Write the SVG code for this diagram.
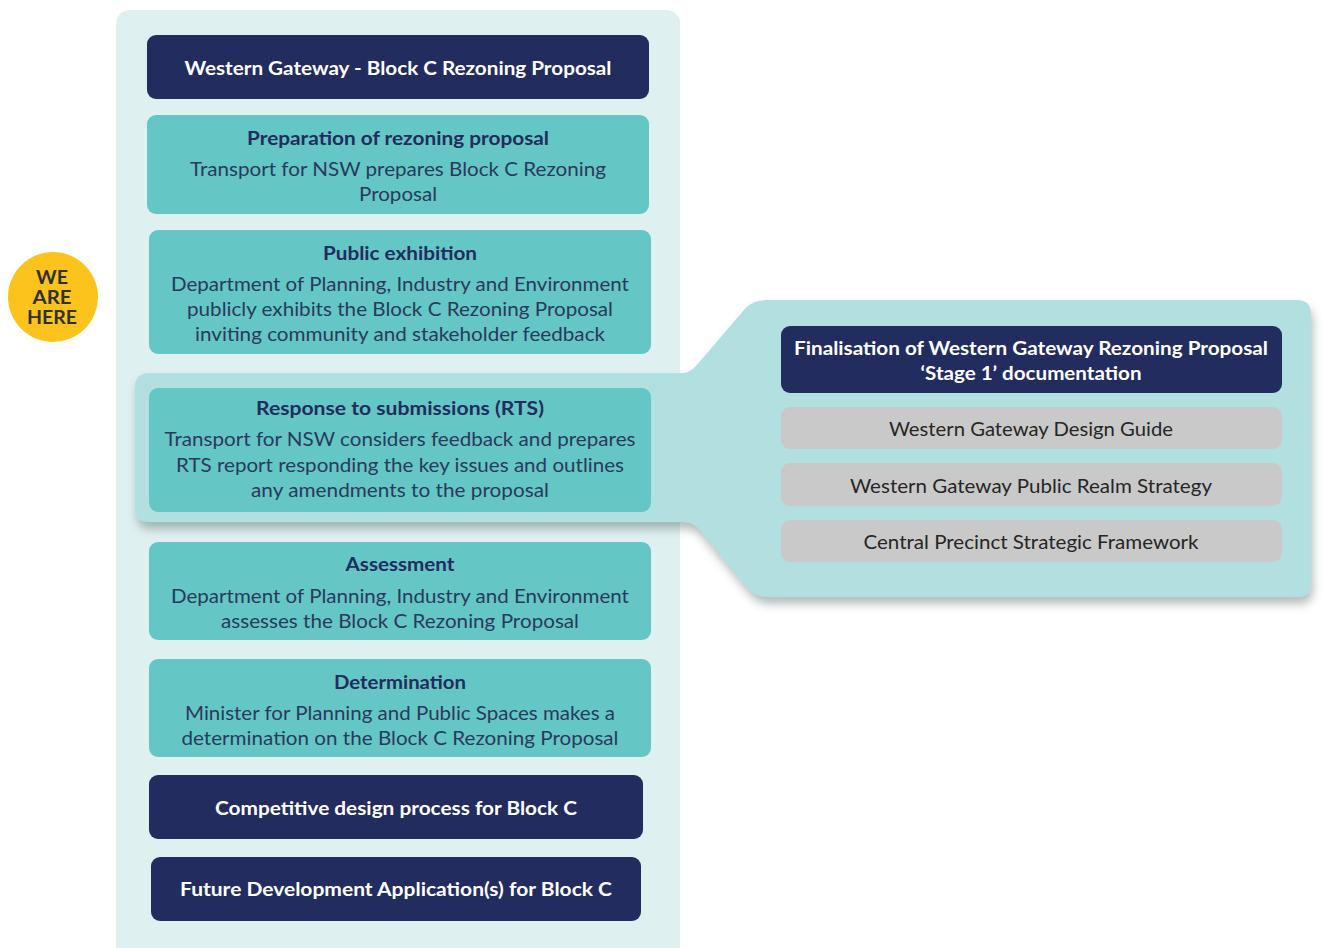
<svg xmlns="http://www.w3.org/2000/svg" width="1322" height="948" viewBox="0 0 1322 948">
  <defs>
    <filter id="shadow" x="-5%" y="-10%" width="112%" height="130%">
      <feDropShadow dx="2" dy="7" stdDeviation="5" flood-color="#5a6a6a" flood-opacity="0.45"/>
    </filter>
    <style>
      .panel { fill: #dff0f1; }
      .callout { fill: #b2e0e0; }
      .navy { fill: #222c5e; }
      .teal { fill: #64c6c5; }
      .grey { fill: #c9c9c9; }
      .badge { fill: #fbc31b; }
      text { font-family: Lato, "Open Sans", "Liberation Sans", sans-serif; text-anchor: middle; dominant-baseline: central; }
      .t-white { fill: #ffffff; font-size: 19px; font-weight: 700; }
      .t-head { fill: #222c5e; font-size: 19px; font-weight: 700; }
      .t-body { fill: #2a3a5c; font-size: 20px; }
      .t-grey { fill: #262626; font-size: 20px; }
      .t-badge { fill: #2f3033; font-size: 18px; font-weight: 700; }
    </style>
  </defs>

  <rect width="1322" height="948" fill="#ffffff"/>

  <!-- process column background -->
  <rect class="panel" x="116" y="10" width="564" height="960" rx="14"/>

  <!-- callout from RTS step to the Stage 1 documentation panel -->
  <g id="connectors">
    <path class="callout" filter="url(#shadow)" d="M 135 387 Q 135 373 149 373 L 682 373 Q 690 373 696 366 L 744 310 Q 752 300 766 300 L 1297 300 Q 1311 300 1311 314 L 1311 583 Q 1311 597 1297 597 L 768 597 Q 756 597 748 588 L 701 531 Q 694 522 684 522 L 149 522 Q 135 522 135 508 Z"/>
  </g>

  <g id="badge">
    <circle class="badge" cx="53" cy="297" r="45"/>
    <text class="t-badge" x="52" y="277" textLength="32" lengthAdjust="spacingAndGlyphs">WE</text>
    <text class="t-badge" x="52" y="297" textLength="39" lengthAdjust="spacingAndGlyphs">ARE</text>
    <text class="t-badge" x="52" y="317" textLength="50" lengthAdjust="spacingAndGlyphs">HERE</text>
  </g>

  <g id="title">
    <rect class="navy" x="147" y="35" width="502" height="64" rx="9"/>
    <text class="t-white" x="398" y="67" textLength="427" lengthAdjust="spacingAndGlyphs">Western Gateway - Block C Rezoning Proposal</text>
  </g>

  <g id="preparation">
    <rect class="teal" x="147" y="115" width="502" height="99" rx="9"/>
    <text class="t-head" x="398" y="137" textLength="302" lengthAdjust="spacingAndGlyphs">Preparation of rezoning proposal</text>
    <text class="t-body" x="398" y="168" textLength="416" lengthAdjust="spacingAndGlyphs">Transport for NSW prepares Block C Rezoning</text>
    <text class="t-body" x="398" y="193" textLength="78" lengthAdjust="spacingAndGlyphs">Proposal</text>
  </g>

  <g id="exhibition">
    <rect class="teal" x="149" y="230" width="502" height="124" rx="9"/>
    <text class="t-head" x="400" y="252" textLength="154" lengthAdjust="spacingAndGlyphs">Public exhibition</text>
    <text class="t-body" x="400" y="283" textLength="458" lengthAdjust="spacingAndGlyphs">Department of Planning, Industry and Environment</text>
    <text class="t-body" x="400" y="308" textLength="426" lengthAdjust="spacingAndGlyphs">publicly exhibits the Block C Rezoning Proposal</text>
    <text class="t-body" x="400" y="333" textLength="410" lengthAdjust="spacingAndGlyphs">inviting community and stakeholder feedback</text>
  </g>

  <g id="rts">
    <rect class="teal" x="149" y="388" width="502" height="124" rx="9"/>
    <text class="t-head" x="400" y="407" textLength="288" lengthAdjust="spacingAndGlyphs">Response to submissions (RTS)</text>
    <text class="t-body" x="400" y="438" textLength="471" lengthAdjust="spacingAndGlyphs">Transport for NSW considers feedback and prepares</text>
    <text class="t-body" x="400" y="464" textLength="448" lengthAdjust="spacingAndGlyphs">RTS report responding the key issues and outlines</text>
    <text class="t-body" x="400" y="489" textLength="298" lengthAdjust="spacingAndGlyphs">any amendments to the proposal</text>
  </g>

  <g id="assessment">
    <rect class="teal" x="149" y="542" width="502" height="98" rx="9"/>
    <text class="t-head" x="400" y="563" textLength="109" lengthAdjust="spacingAndGlyphs">Assessment</text>
    <text class="t-body" x="400" y="595" textLength="458" lengthAdjust="spacingAndGlyphs">Department of Planning, Industry and Environment</text>
    <text class="t-body" x="400" y="620" textLength="358" lengthAdjust="spacingAndGlyphs">assesses the Block C Rezoning Proposal</text>
  </g>

  <g id="determination">
    <rect class="teal" x="149" y="659" width="502" height="98" rx="9"/>
    <text class="t-head" x="400" y="681" textLength="132" lengthAdjust="spacingAndGlyphs">Determination</text>
    <text class="t-body" x="400" y="712" textLength="430" lengthAdjust="spacingAndGlyphs">Minister for Planning and Public Spaces makes a</text>
    <text class="t-body" x="400" y="737" textLength="437" lengthAdjust="spacingAndGlyphs">determination on the Block C Rezoning Proposal</text>
  </g>

  <g id="competitive">
    <rect class="navy" x="149" y="775" width="494" height="64" rx="9"/>
    <text class="t-white" x="396" y="807" textLength="362" lengthAdjust="spacingAndGlyphs">Competitive design process for Block C</text>
  </g>

  <g id="future-da">
    <rect class="navy" x="151" y="857" width="490" height="64" rx="9"/>
    <text class="t-white" x="396" y="888" textLength="432" lengthAdjust="spacingAndGlyphs">Future Development Application(s) for Block C</text>
  </g>

  <g id="stage1">
    <rect class="navy" x="781" y="326" width="501" height="67" rx="9"/>
    <text class="t-white" x="1031" y="347" textLength="474" lengthAdjust="spacingAndGlyphs">Finalisation of Western Gateway Rezoning Proposal</text>
    <text class="t-white" x="1031" y="372" textLength="221" lengthAdjust="spacingAndGlyphs">‘Stage 1’ documentation</text>
  </g>

  <g id="design-guide">
    <rect class="grey" x="781" y="407" width="501" height="42" rx="9"/>
    <text class="t-grey" x="1031" y="428" textLength="284" lengthAdjust="spacingAndGlyphs">Western Gateway Design Guide</text>
  </g>

  <g id="public-realm">
    <rect class="grey" x="781" y="463" width="501" height="43" rx="9"/>
    <text class="t-grey" x="1031" y="485" textLength="362" lengthAdjust="spacingAndGlyphs">Western Gateway Public Realm Strategy</text>
  </g>

  <g id="central-precinct">
    <rect class="grey" x="781" y="520" width="501" height="42" rx="9"/>
    <text class="t-grey" x="1031" y="541" textLength="335" lengthAdjust="spacingAndGlyphs">Central Precinct Strategic Framework</text>
  </g>
</svg>
